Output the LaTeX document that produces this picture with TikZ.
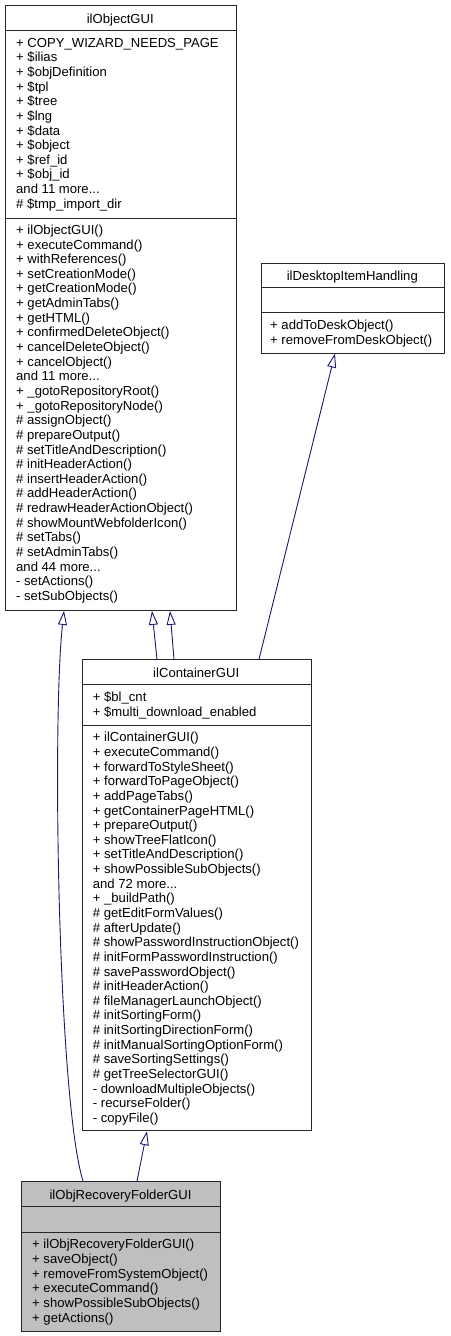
\documentclass[tikz,border=0pt]{standalone}
\usepackage{fontspec}
\newfontfamily\helv{Liberation Sans}
\usetikzlibrary{arrows.meta}
\definecolor{edgeblue}{HTML}{191970}
\definecolor{recfill}{HTML}{BFBFBF}
\newcommand\threedots{...}
\newcommand\classlines[4]{\foreach \t [count=\i from 0] in {#4} {\node[txt] (#3-\i) at (#1, {#2+\i*14.64}) {\t};}}
\begin{document}
\begin{tikzpicture}[x=1pt,y=-1pt,
  boxline/.style={draw=black!85, line width=0.9pt},
  classbox/.style={boxline, fill=white, inner sep=0pt, anchor=north west},
  txt/.style={anchor=base west, inner sep=0pt, font=\helv\fontsize{13.1}{14.64}\selectfont},
  ttl/.style={anchor=base, inner sep=0pt, font=\helv\fontsize{13.1}{14.64}\selectfont},
  edge/.style={draw=edgeblue, line width=0.9pt, -{Triangle[open, length=14pt, width=9pt]}}
]
\useasboundingbox (0,0) rectangle (450,1336);

% ilObjectGUI
\node[classbox, minimum width=230.7pt, minimum height=604.7pt] (objgui) at (5,5.3) {};
\draw[boxline] (5,30.7) -- (235.7,30.7);
\draw[boxline] (5,218.3) -- (235.7,218.3);
\node[ttl] (objgui-title) at (120.3,23.3) {ilObjectGUI};
\classlines{16}{47.2}{objgui-a}{+ COPY\_WIZARD\_NEEDS\_PAGE,+ \$ilias,+ \$objDefinition,+ \$tpl,+ \$tree,+ \$lng,+ \$data,+ \$object,+ \$ref\_id,+ \$obj\_id,and 11 more\threedots,\# \$tmp\_import\_dir}
\classlines{16}{234.4}{objgui-m}{+ ilObjectGUI(),+ executeCommand(),+ withReferences(),+ setCreationMode(),+ getCreationMode(),+ getAdminTabs(),+ getHTML(),+ confirmedDeleteObject(),+ cancelDeleteObject(),+ cancelObject(),and 11 more\threedots,+ \_gotoRepositoryRoot(),+ \_gotoRepositoryNode(),\# assignObject(),\# prepareOutput(),\# setTitleAndDescription(),\# initHeaderAction(),\# insertHeaderAction(),\# addHeaderAction(),\# redrawHeaderActionObject(),\# showMountWebfolderIcon(),\# setTabs(),\# setAdminTabs(),and 44 more\threedots,- setActions(),- setSubObjects()}

% ilDesktopItemHandling
\node[classbox, minimum width=183.3pt, minimum height=90pt] (desk) at (260.7,262.7) {};
\draw[boxline] (260.7,287.6) -- (444,287.6);
\draw[boxline] (260.7,312.7) -- (444,312.7);
\node[ttl] (desk-title) at (352.3,280.7) {ilDesktopItemHandling};
\classlines{270}{329.5}{desk-m}{+ addToDeskObject(),+ removeFromDeskObject()}

% ilContainerGUI
\node[classbox, minimum width=229pt, minimum height=471pt] (cont) at (81.7,659.3) {};
\draw[boxline] (81.7,684.7) -- (310.7,684.7);
\draw[boxline] (81.7,725) -- (310.7,725);
\node[ttl] (cont-title) at (196.2,677.3) {ilContainerGUI};
\classlines{92.7}{701.5}{cont-a}{+ \$bl\_cnt,+ \$multi\_download\_enabled}
\classlines{92.7}{741.8}{cont-m}{+ ilContainerGUI(),+ executeCommand(),+ forwardToStyleSheet(),+ forwardToPageObject(),+ addPageTabs(),+ getContainerPageHTML(),+ prepareOutput(),+ showTreeFlatIcon(),+ setTitleAndDescription(),+ showPossibleSubObjects(),and 72 more\threedots,+ \_buildPath(),\# getEditFormValues(),\# afterUpdate(),\# showPasswordInstructionObject(),\# initFormPasswordInstruction(),\# savePasswordObject(),\# initHeaderAction(),\# fileManagerLaunchObject(),\# initSortingForm(),\# initSortingDirectionForm(),\# initManualSortingOptionForm(),\# saveSortingSettings(),\# getTreeSelectorGUI(),- downloadMultipleObjects(),- recurseFolder(),- copyFile()}

% ilObjRecoveryFolderGUI
\node[classbox, fill=recfill, minimum width=199pt, minimum height=149.5pt] (rec) at (21,1181) {};
\draw[boxline] (21,1206.4) -- (220,1206.4);
\draw[boxline] (21,1232) -- (220,1232);
\node[ttl] (rec-title) at (120.5,1199) {ilObjRecoveryFolderGUI};
\classlines{32}{1248.8}{rec-m}{+ ilObjRecoveryFolderGUI(),+ saveObject(),+ removeFromSystemObject(),+ executeCommand(),+ showPossibleSubObjects(),+ getActions()}

% connectors
\draw[edge] (rec.north -| 83,0) .. controls (58,1100) and (52,720) .. (objgui.south -| 64,0);
\draw[edge] (rec.north -| 137,0) -- (cont.south -| 147,0);
\draw[edge] (cont.north -| 157,0) -- (objgui.south -| 152,0);
\draw[edge] (cont.north -| 174,0) -- (objgui.south -| 170,0);
\draw[edge] (cont.north -| 259,0) -- (desk.south -| 335,0);
\end{tikzpicture}
\end{document}
